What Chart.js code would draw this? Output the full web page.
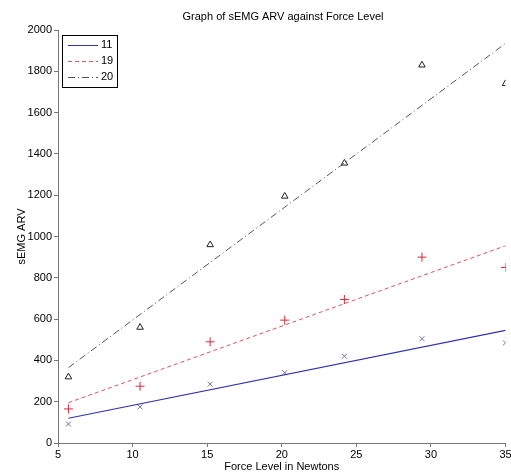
<!DOCTYPE html>
<html>
<head>
<meta charset="utf-8">
<script src="https://cdn.jsdelivr.net/npm/chart.js@4/dist/chart.umd.min.js"></script>
<style>
  html, body { margin: 0; padding: 0; background: #fff; }
  #wrap { width: 511px; height: 474px; }
</style>
</head>
<body>
<div id="wrap"><canvas id="semgChart" width="511" height="474"></canvas></div>
<script>
// force levels (N) where measurements were taken
const forceLevels = [5.7, 10.5, 15.2, 20.2, 24.2, 29.4, 35];
// measured sEMG ARV per subject
const arv11 = [92, 175, 285, 340, 420, 505, 485];
const arv19 = [165, 275, 490, 595, 695, 900, 850];
const arv20 = [320, 560, 960, 1195, 1355, 1830, 1740];
// linear fit end points
const fitX = [5.7, 35];
const fit11 = [120, 545];
const fit19 = [195, 955];
const fit20 = [365, 1935];

const xTicks = [5, 10, 15, 20, 25, 30, 35];
const fontFamily = "'Liberation Sans', Arial, sans-serif";

function pairs(xs, ys) {
    return xs.map((x, i) => ({ x: x, y: ys[i] }));
}

const fitStyles = [
    { label: "11", color: "#3232b0", dash: [] },
    { label: "19", color: "#d05a5a", dash: [4, 3] },
    { label: "20", color: "#555555", dash: [7, 3, 1, 3] },
];

// title + boxed legend drawn on the canvas
const extrasPlugin = {
    id: "extras",
    afterDraw(chart) {
        const ctx = chart.ctx;
        ctx.save();
        ctx.fillStyle = "#000";
        ctx.font = "11px " + fontFamily;
        ctx.textAlign = "center";
        ctx.textBaseline = "middle";
        ctx.fillText("Graph of sEMG ARV against Force Level", 283, 17);

        const bx = 62, by = 35, bw = 55, bh = 52;
        ctx.fillStyle = "#fff";
        ctx.fillRect(bx, by, bw, bh);
        ctx.strokeStyle = "#000";
        ctx.lineWidth = 1;
        ctx.strokeRect(bx + 0.5, by + 0.5, bw, bh);
        const rowsY = [45, 61, 77];
        ctx.textAlign = "left";
        fitStyles.forEach((s, i) => {
            ctx.beginPath();
            ctx.strokeStyle = s.color;
            ctx.setLineDash(s.dash);
            ctx.moveTo(68, rowsY[i] + 0.5);
            ctx.lineTo(98, rowsY[i] + 0.5);
            ctx.stroke();
            ctx.setLineDash([]);
            ctx.fillStyle = "#000";
            ctx.fillText(s.label, 101, rowsY[i]);
        });
        ctx.restore();
    }
};

const ctx = document.getElementById("semgChart");
const semgChart = new Chart(ctx, {
    type: "scatter",
    data: {
        datasets: [
            {
                label: "11",
                type: "line",
                data: pairs(fitX, fit11),
                borderColor: fitStyles[0].color,
                borderWidth: 1.2,
                pointRadius: 0,
                fill: false,
            },
            {
                label: "19",
                type: "line",
                data: pairs(fitX, fit19),
                borderColor: fitStyles[1].color,
                borderDash: fitStyles[1].dash,
                borderWidth: 1,
                pointRadius: 0,
                fill: false,
            },
            {
                label: "20",
                type: "line",
                data: pairs(fitX, fit20),
                borderColor: fitStyles[2].color,
                borderDash: fitStyles[2].dash,
                borderWidth: 1,
                pointRadius: 0,
                fill: false,
            },
            {
                label: "11 data",
                data: pairs(forceLevels, arv11),
                pointStyle: "crossRot",
                pointRadius: 3.5,
                borderColor: "#7070a8",
                borderWidth: 1,
            },
            {
                label: "19 data",
                data: pairs(forceLevels, arv19),
                pointStyle: "cross",
                pointRadius: 4.5,
                borderColor: "#d8283c",
                borderWidth: 1,
            },
            {
                label: "20 data",
                data: pairs(forceLevels, arv20),
                pointStyle: "triangle",
                pointRadius: 3.8,
                borderColor: "#222222",
                backgroundColor: "rgba(0,0,0,0)",
                borderWidth: 1,
            },
        ],
    },
    options: {
        responsive: false,
        animation: false,
        layout: { padding: { top: 30, right: 4, bottom: 0, left: 0 } },
        plugins: {
            legend: { display: false },
            title: { display: false },
            tooltip: { enabled: false },
        },
        scales: {
            x: {
                type: "linear",
                min: 5,
                max: 35,
                afterBuildTicks(scale) {
                    scale.ticks = xTicks.map((v) => ({ value: v }));
                },
                afterFit(scale) {
                    scale.height = 31;
                    scale.paddingLeft = 0;
                    scale.paddingRight = 0;
                },
                grid: { drawOnChartArea: false, drawTicks: true, tickLength: 4, color: "#777" },
                border: { color: "#777" },
                ticks: { color: "#000", font: { family: fontFamily, size: 11 }, padding: 1, maxRotation: 0 },
                title: {
                    display: true,
                    text: "Force Level in Newtons",
                    color: "#000",
                    font: { family: fontFamily, size: 11 },
                    padding: { top: 0, bottom: 0 },
                },
            },
            y: {
                min: 0,
                max: 2000,
                afterFit(scale) {
                    scale.width = 58;
                },
                grid: { drawOnChartArea: false, drawTicks: true, tickLength: 4, color: "#777" },
                border: { color: "#777" },
                ticks: {
                    stepSize: 200,
                    color: "#000",
                    font: { family: fontFamily, size: 11 },
                    padding: 2,
                    callback: (v) => String(v),
                },
                title: {
                    display: true,
                    text: "sEMG ARV",
                    color: "#000",
                    font: { family: fontFamily, size: 11 },
                    padding: { top: 15, bottom: 0 },
                },
            },
        },
    },
    plugins: [extrasPlugin],
});
</script>
</body>
</html>
